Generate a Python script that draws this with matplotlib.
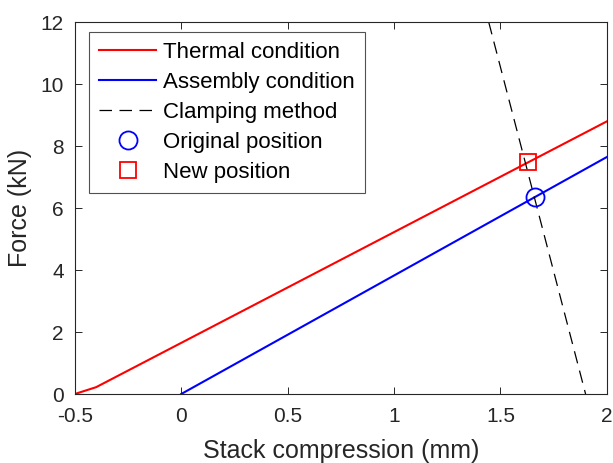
import matplotlib
matplotlib.use("Agg")
import matplotlib.pyplot as plt

# data
thermal_x = [-0.5, -0.4, 2.0]
thermal_y = [0.0, 0.22, 8.8]
assembly_x = [0.0, 2.0]
assembly_y = [0.0, 7.65]
clamp_x = [1.445, 1.90]
clamp_y = [12.0, 0.0]
original_pos = (1.66, 6.36)
new_pos = (1.628, 7.5)

plt.rcParams["font.family"] = ["Liberation Sans", "DejaVu Sans"]
dark = "#262626"

fig = plt.figure(figsize=(6.13, 4.63), dpi=100)
ax = fig.add_axes([0.122, 0.149, 0.868, 0.803])

ax.plot(thermal_x, thermal_y, color="red", lw=1.5, label="Thermal condition")
ax.plot(assembly_x, assembly_y, color="blue", lw=1.5, label="Assembly condition")
ax.plot(clamp_x, clamp_y, color="black", lw=0.9, ls=(0, (10, 6)), label="Clamping method")
ax.plot(*original_pos, "o", mfc="none", mec="blue", ms=13, mew=1.3, label="Original position")
ax.plot(*new_pos, "s", mfc="none", mec="red", ms=11, mew=1.3, label="New position")

ax.set_xlim(-0.5, 2)
ax.set_ylim(0, 12)
ax.set_xticks([-0.5, 0, 0.5, 1, 1.5, 2])
ax.set_xticklabels(["-0.5", "0", "0.5", "1", "1.5", "2"])
ax.set_yticks([0, 2, 4, 6, 8, 10, 12])
ax.tick_params(direction="in", top=True, right=True, length=5, width=0.7,
               colors=dark, labelsize=15)
ax.tick_params(axis="x", pad=9)
ax.tick_params(axis="y", pad=8)
for s in ax.spines.values():
    s.set_color(dark)
    s.set_linewidth(0.8)

ax.set_xlabel("Stack compression (mm)", fontsize=18, color=dark, labelpad=10)
ax.set_ylabel("Force (kN)", fontsize=18, color=dark, labelpad=6)

leg = ax.legend(loc="upper left", bbox_to_anchor=(0.026, 0.973), borderaxespad=0,
                fontsize=16, frameon=True, fancybox=False, edgecolor=dark,
                handlelength=2.6, labelspacing=0.4, borderpad=0.45, handletextpad=0.3)
leg.get_frame().set_linewidth(0.8)

fig.savefig("out.png", dpi=100)
